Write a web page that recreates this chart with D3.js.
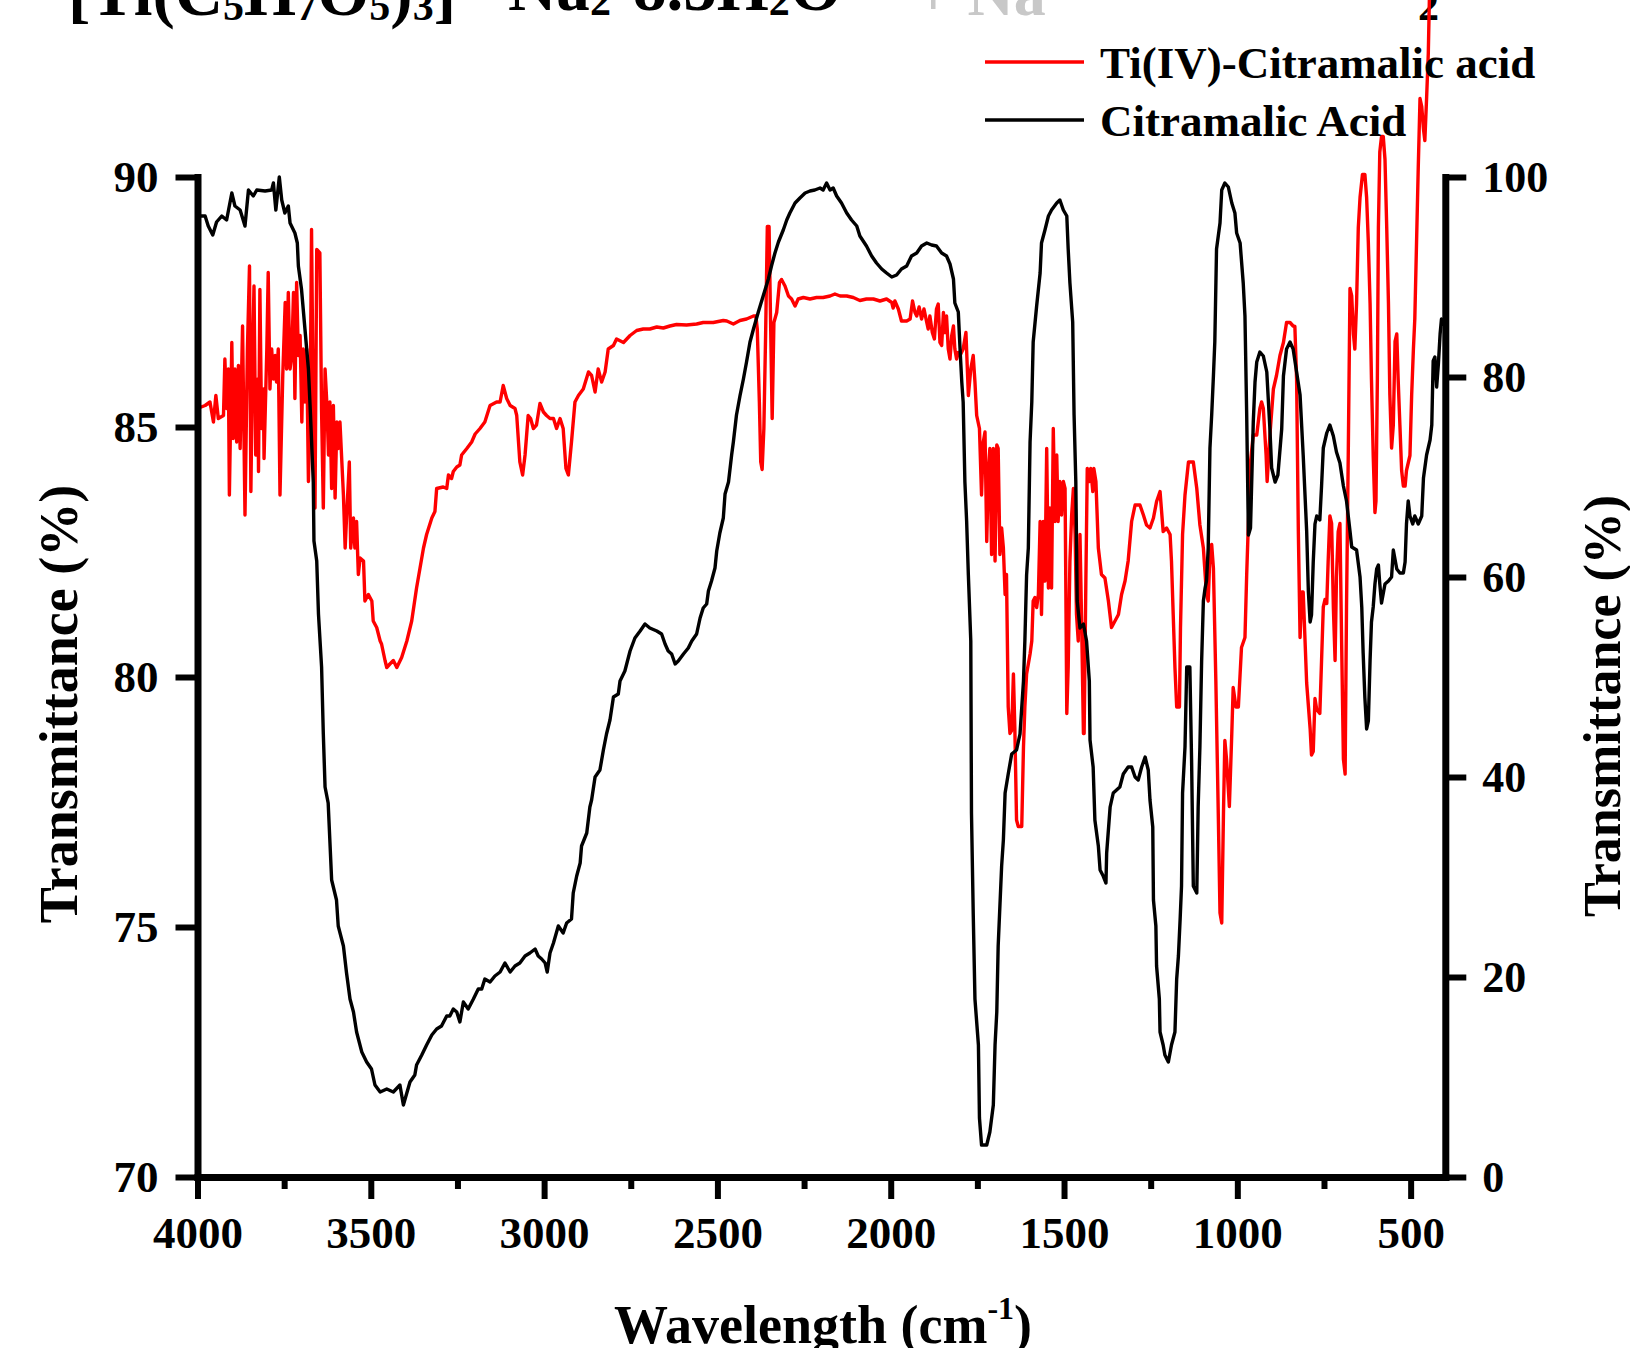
<!DOCTYPE html>
<html>
<head>
<meta charset="utf-8">
<script src="https://cdn.jsdelivr.net/npm/d3@7"></script>
<style>
html, body { margin: 0; padding: 0; background: #fff; overflow: hidden; }
svg text { font-family: "Liberation Serif", "Times New Roman", serif; font-weight: bold; fill: #000; }
</style>
</head>
<body>
<svg id="chart" width="1630" height="1348"></svg>
<script>
// Ti(IV)-citramalic acid spectrum (left axis, %T 70-90)
const tiWave = [4000,3993,3978,3964,3954,3947,3940,3925,3921,3916,3911,3908,3901,3897,3892,3887,3882,3877,3870,3863,
  3856,3850,3846,3841,3837,3832,3826,3824,3820,3815,3810,3808,3800,3796,3791,3786,3781,3776,3772,3767,
  3762,3754,3747,3743,3738,3733,3728,3723,3719,3714,3709,3704,3699,3695,3690,3685,3680,3675,3671,3666,
  3661,3656,3647,3642,3637,3632,3627,3622,3618,3613,3608,3603,3598,3594,3589,3579,3574,3570,3562,3558,
  3550,3546,3541,3536,3531,3521,3517,3507,3497,3493,3483,3473,3469,3459,3454,3445,3435,3425,3411,3396,
  3382,3368,3358,3348,3339,3324,3315,3310,3291,3281,3276,3267,3262,3252,3243,3238,3223,3209,3199,3185,
  3171,3156,3137,3127,3118,3108,3098,3084,3079,3070,3062,3055,3046,3039,3031,3022,3012,3002,2993,2983,
  2973,2964,2954,2945,2937,2930,2921,2911,2901,2887,2872,2863,2853,2844,2834,2824,2815,2800,2791,2771,
  2752,2733,2714,2695,2675,2656,2637,2618,2589,2560,2541,2512,2483,2473,2454,2435,2416,2396,2389,2385,
  2379,2375,2371,2366,2361,2356,2351,2346,2342,2337,2329,2321,2315,2305,2295,2286,2276,2267,2252,2233,
  2214,2195,2175,2161,2146,2127,2108,2089,2070,2050,2031,2012,1997,1993,1988,1978,1969,1954,1944,1937,
  1930,1925,1918,1911,1904,1896,1892,1887,1880,1874,1868,1863,1858,1853,1848,1843,1839,1834,1829,1824,
  1819,1815,1810,1805,1800,1791,1783,1776,1769,1762,1757,1752,1744,1738,1733,1728,1723,1718,1714,1709,
  1704,1699,1694,1690,1685,1680,1675,1670,1666,1661,1656,1651,1646,1642,1637,1632,1622,1617,1613,1608,
  1598,1593,1589,1584,1579,1574,1569,1565,1560,1555,1550,1545,1541,1536,1531,1526,1521,1517,1512,1507,
  1502,1497,1492,1488,1483,1478,1473,1468,1464,1459,1454,1449,1444,1442,1437,1433,1427,1423,1417,1414,
  1408,1401,1392,1382,1372,1363,1353,1343,1334,1324,1315,1305,1295,1286,1281,1271,1262,1252,1242,1233,
  1223,1214,1204,1194,1190,1185,1180,1175,1167,1164,1158,1151,1141,1127,1117,1108,1098,1089,1084,1079,
  1074,1069,1062,1055,1050,1045,1040,1036,1031,1023,1016,1012,1004,997,988,978,973,968,962,954,
  944,935,930,925,917,914,906,896,887,877,867,858,848,839,834,829,824,819,814,810,
  800,790,786,781,776,771,762,757,752,747,742,738,733,728,723,718,714,709,704,699,
  694,689,685,680,675,670,665,661,656,651,646,639,632,627,622,617,613,608,603,600,
  596,593,589,584,579,574,569,564,560,555,550,545,540,536,531,526,521,516,512,507,
  502,497,492,488,483,478,473,468,463,459,454,449,446,440];
const tiT = [85.37,85.39,85.43,85.50,85.10,85.63,85.17,85.23,86.36,85.37,86.16,83.64,86.69,84.77,86.16,84.70,86.23,84.57,87.02,83.24,
  86.56,88.22,83.71,86.43,87.82,84.44,85.96,84.11,87.75,84.97,85.76,84.37,86.56,88.09,85.76,86.56,85.96,86.43,85.90,86.56,
  83.64,86.03,87.49,86.16,87.69,86.16,86.43,87.69,85.57,87.89,86.43,86.83,85.10,86.56,85.50,86.56,83.91,85.37,88.95,85.23,
  83.38,88.55,88.48,85.30,83.38,86.16,85.50,84.44,85.50,83.77,85.43,83.58,85.10,84.57,85.10,83.64,82.58,83.18,84.30,82.58,
  83.18,82.58,83.11,82.05,82.38,82.32,81.52,81.65,81.52,81.12,80.99,80.72,80.66,80.33,80.19,80.26,80.33,80.19,80.39,80.72,
  81.12,81.78,82.18,82.58,82.85,83.18,83.31,83.77,83.80,83.77,84.04,83.97,84.11,84.20,84.24,84.44,84.57,84.70,84.86,84.97,
  85.10,85.43,85.50,85.50,85.83,85.57,85.43,85.37,85.23,84.30,84.04,84.44,85.23,85.17,84.97,85.04,85.47,85.30,85.23,85.17,
  85.17,84.97,85.17,84.97,84.17,84.04,84.70,85.50,85.63,85.76,86.10,86.03,85.70,86.16,85.90,86.10,86.56,86.63,86.76,86.69,
  86.83,86.93,86.96,86.96,87.00,86.98,87.02,87.05,87.04,87.06,87.09,87.09,87.13,87.12,87.06,87.13,87.16,87.22,87.22,86.96,
  85.50,84.30,84.15,84.97,86.83,89.01,89.01,86.83,85.17,87.09,87.29,87.89,87.95,87.82,87.62,87.56,87.42,87.56,87.59,87.56,
  87.59,87.59,87.62,87.66,87.62,87.62,87.59,87.53,87.56,87.56,87.52,87.56,87.49,87.38,87.52,87.36,87.12,87.12,87.16,87.52,
  87.29,87.22,87.40,87.16,87.36,87.09,86.96,87.22,86.89,86.76,87.36,87.46,86.69,86.63,87.29,86.89,87.22,86.56,86.36,86.83,
  87.02,86.56,86.36,86.49,86.43,86.56,86.89,85.63,86.16,86.43,85.90,85.23,84.97,83.64,84.70,84.90,82.71,84.17,84.57,82.45,
  84.57,82.32,84.64,84.57,82.45,82.98,82.58,81.65,82.05,79.40,78.87,78.93,80.06,79.00,77.14,77.01,77.01,78.60,79.40,80.06,
  80.46,80.72,81.52,81.59,81.39,81.65,83.11,81.25,83.11,81.92,84.57,81.78,83.38,81.78,84.97,83.11,84.44,83.11,83.91,83.24,
  83.91,83.77,79.27,80.19,82.32,83.24,83.77,82.85,81.25,80.72,82.85,80.99,78.87,78.87,81.92,84.17,83.91,84.17,83.71,84.17,
  83.91,82.58,82.05,81.98,81.52,80.99,81.12,81.25,81.65,81.92,82.32,83.11,83.44,83.44,83.44,83.24,83.04,82.98,83.18,83.51,
  83.71,82.91,82.98,82.85,82.32,81.25,80.19,79.40,79.40,80.99,82.85,83.64,84.30,84.30,83.77,83.04,82.58,81.65,81.52,82.45,
  82.65,82.18,79.93,77.27,75.28,75.08,77.27,78.73,78.34,77.41,78.87,79.79,79.40,79.40,80.59,80.79,82.05,83.11,84.30,84.84,
  84.84,85.37,85.50,85.37,84.44,83.91,84.84,85.76,86.03,86.43,86.69,87.09,87.09,87.02,87.01,85.95,82.91,80.79,81.70,81.70,
  79.88,78.97,78.44,78.51,79.57,79.35,79.27,80.33,81.40,81.55,81.47,82.31,83.22,83.07,81.40,80.33,82.00,82.91,83.07,80.64,
  78.36,78.06,81.40,84.43,87.77,87.62,86.86,86.56,87.47,88.99,89.59,90.05,90.05,89.59,88.68,87.47,85.95,84.43,83.29,83.52,
  85.95,88.99,90.50,90.81,90.81,90.35,88.99,87.47,85.65,84.58,85.04,86.71,86.86,85.95,85.04,84.13,83.82,83.82,84.13,84.28,
  84.43,85.65,86.56,87.16,88.68,90.20,91.57,91.41,90.96,90.73,91.57,92.48,93.54,94.80];

// Citramalic acid spectrum (right axis, %T 0-100)
const citWave = [4000,3993,3978,3969,3956,3945,3930,3916,3901,3892,3877,3863,3853,3839,3829,3805,3786,3781,3774,3764,
  3757,3748,3738,3733,3719,3712,3709,3700,3690,3680,3674,3666,3664,3656,3651,3642,3637,3632,3623,3613,
  3599,3594,3579,3570,3560,3550,3541,3526,3512,3498,3488,3473,3454,3435,3416,3406,3387,3373,3368,3353,
  3339,3324,3310,3296,3281,3272,3262,3252,3243,3233,3219,3204,3190,3180,3171,3156,3142,3127,3113,3098,
  3084,3070,3055,3041,3026,3017,3007,2997,2991,2983,2973,2959,2945,2935,2921,2916,2906,2896,2892,2877,
  2868,2863,2853,2839,2829,2820,2810,2800,2786,2781,2767,2752,2738,2723,2709,2695,2675,2661,2651,2642,
  2632,2622,2613,2598,2584,2574,2560,2550,2541,2531,2526,2517,2507,2502,2493,2483,2478,2468,2459,2454,
  2445,2435,2425,2416,2406,2396,2382,2368,2353,2344,2334,2324,2310,2300,2291,2276,2262,2247,2233,2219,
  2204,2195,2185,2175,2166,2156,2142,2127,2113,2098,2089,2070,2055,2041,2026,2012,1997,1983,1969,1954,
  1940,1925,1911,1896,1882,1868,1853,1839,1829,1819,1815,1805,1800,1795,1791,1786,1781,1776,1769,1767,
  1762,1757,1747,1744,1738,1723,1714,1704,1699,1694,1690,1685,1680,1675,1670,1661,1651,1637,1627,1617,
  1613,1608,1603,1598,1593,1589,1579,1569,1565,1555,1545,1536,1521,1512,1502,1492,1488,1483,1475,1471,
  1466,1462,1454,1444,1435,1427,1425,1416,1411,1401,1396,1387,1379,1377,1367,1358,1339,1329,1315,1305,
  1295,1286,1276,1266,1257,1252,1244,1242,1235,1233,1225,1223,1214,1209,1199,1190,1180,1175,1170,1165,
  1161,1158,1151,1146,1137,1132,1127,1117,1113,1108,1103,1098,1093,1089,1084,1079,1074,1069,1065,1060,
  1050,1045,1036,1026,1016,1007,1002,992,983,978,973,968,962,954,949,944,935,925,915,906,
  901,891,883,872,867,858,848,839,829,819,810,800,795,790,786,781,776,771,762,757,
  752,742,733,723,714,704,694,685,675,670,656,646,641,637,632,627,622,617,613,608,
  603,598,593,589,584,574,564,555,550,540,531,521,516,512,507,502,494,488,478,468,
  463,454,444,439,435,430,425,420,415,411,408];
const citT = [96.4,96.1,96.1,95.1,94.2,95.5,96.1,95.7,98.4,97.1,96.7,95.1,98.7,98.1,98.7,98.6,98.7,99.4,96.7,100.0,
  97.7,96.4,97.1,95.4,94.4,93.4,91.1,88.8,84.8,80.8,76.2,69.5,63.6,61.6,56.3,51.0,44.3,39.0,37.4,29.7,
  27.7,25.1,23.1,20.4,17.8,16.5,14.5,12.5,11.5,10.8,9.2,8.5,8.8,8.5,9.2,7.2,9.5,10.2,11.2,12.2,
  13.2,14.2,14.8,15.1,16.1,16.1,16.8,16.5,15.5,17.5,16.8,17.8,18.8,18.8,19.8,19.5,20.1,20.5,21.4,20.5,
  21.1,21.4,22.1,22.4,22.8,22.1,21.8,21.4,20.5,22.4,23.4,25.1,24.4,25.4,25.8,28.4,30.1,31.4,33.1,34.4,
  37.0,37.7,40.0,40.7,42.7,44.3,45.7,48.0,48.3,49.6,50.6,52.6,53.9,54.6,55.3,54.9,54.6,54.3,53.3,52.6,
  52.3,51.3,51.6,52.3,52.9,53.6,54.3,55.9,56.9,57.3,58.6,59.6,60.9,62.6,64.4,65.9,68.3,69.5,72.2,73.5,
  76.2,78.1,79.8,81.5,83.5,84.8,86.5,88.1,89.8,91.1,92.4,93.5,94.7,95.7,96.4,97.4,97.9,98.4,98.6,98.7,
  98.9,98.7,99.4,98.7,98.9,98.1,97.4,96.4,95.7,95.1,94.1,93.1,92.1,91.4,90.8,90.4,90.0,90.2,90.8,91.1,
  92.1,92.4,93.1,93.4,93.2,93.1,92.4,92.1,91.3,89.8,87.4,86.5,82.8,79.5,77.5,69.5,65.6,60.2,53.6,36.4,
  26.4,17.8,13.2,5.9,3.2,3.2,4.5,7.2,13.2,16.5,23.1,27.1,31.1,33.7,38.4,40.3,42.3,42.7,44.3,49.6,
  53.6,60.2,62.9,73.5,77.5,83.5,87.1,90.4,93.4,94.7,96.1,96.7,97.4,97.7,96.7,96.1,92.8,89.4,85.5,76.2,
  69.5,57.6,54.9,55.3,53.6,49.6,43.7,41.0,35.7,33.1,30.7,30.1,29.4,32.4,37.0,38.4,39.0,40.3,41.0,41.0,
  40.0,39.7,41.0,42.0,40.7,37.7,35.0,27.7,25.1,21.1,17.8,14.5,13.2,12.2,11.5,13.2,14.5,19.8,22.1,25.8,
  29.1,38.4,43.0,51.0,51.0,41.7,29.1,28.4,37.0,43.0,51.6,57.6,58.9,59.6,62.9,72.9,76.2,80.1,83.5,92.8,
  95.4,98.7,99.4,99.0,97.4,96.4,94.4,93.4,89.4,86.1,76.2,64.2,64.9,75.5,79.5,81.5,82.5,82.1,80.5,74.8,
  70.9,69.5,70.2,74.8,80.1,82.8,83.5,82.8,80.5,78.2,72.2,64.6,58.5,55.5,56.2,61.5,65.3,66.1,65.7,69.1,
  72.9,74.4,75.2,74.1,72.5,71.4,69.1,67.6,64.6,63.0,62.7,60.0,57.0,52.4,47.9,44.8,45.6,51.7,55.5,57.0,
  59.3,60.8,61.2,59.3,57.4,59.3,59.6,60.0,62.7,60.8,60.4,60.4,61.5,65.3,67.6,66.1,65.3,66.1,65.3,66.1,
  69.9,72.2,73.7,75.2,81.6,82.0,79.0,81.3,84.3,85.8,85.1];

// ticks and labels
const xTicks = [4000, 3500, 3000, 2500, 2000, 1500, 1000, 500];
const xMinor = [3750, 3250, 2750, 2250, 1750, 1250, 750];
const leftTicks = [70, 75, 80, 85, 90];
const rightTicks = [0, 20, 40, 60, 80, 100];
const seriesNames = ["Ti(IV)-Citramalic acid", "Citramalic Acid"];
const seriesColors = ["#ff0000", "#000000"];

const svg = d3.select("#chart");

const x = d3.scaleLinear().domain([4000, 400]).range([197.5, 1445.3]);
const yL = d3.scaleLinear().domain([70, 90]).range([1177, 177]);
const yR = d3.scaleLinear().domain([0, 100]).range([1177, 177]);

// cut-off formula line at the very top
const title = svg.append("text").attr("x", 68).attr("y", 15).style("font-size", "67px");
const sub = (t) => title.append("tspan").attr("dy", 5).style("font-size", "42px").text(t);
const main = (t) => title.append("tspan").attr("dy", -5).text(t);
title.append("tspan").text("[Ti(C");
sub("5"); main("H"); sub("7"); main("O"); sub("5"); main(")"); sub("3"); main("]");
title.append("tspan").attr("dy", -5).attr("dx", 52).text("Na");
sub("2"); title.append("tspan").attr("dy", -5).attr("dx", 22).text("8.5H"); sub("2"); main("O");
svg.append("text").attr("x", 915).attr("y", 15).style("font-size", "64px").style("fill", "#c8c8c8").text("+ Na");
svg.append("text").attr("x", 1418).attr("y", 20).style("font-size", "42px").text("2");

// spectra
const lineL = d3.line().x(d => x(d[0])).y(d => yL(d[1]));
const lineR = d3.line().x(d => x(d[0])).y(d => yR(d[1]));

svg.append("path")
  .datum(d3.zip(tiWave, tiT))
  .attr("d", lineL)
  .attr("fill", "none")
  .attr("stroke", seriesColors[0])
  .attr("stroke-width", 3.4)
  .attr("stroke-linejoin", "round");

svg.append("path")
  .datum(d3.zip(citWave, citT))
  .attr("d", lineR)
  .attr("fill", "none")
  .attr("stroke", seriesColors[1])
  .attr("stroke-width", 3.4)
  .attr("stroke-linejoin", "round");

// axes
function styleAxis(g, size) {
  g.select(".domain").attr("stroke-width", 7).attr("stroke-linecap", "square");
  g.selectAll(".tick line").attr("stroke-width", 6);
  g.selectAll(".tick text").style("font-size", size + "px").attr("fill", "#000");
}

svg.append("g")
  .attr("transform", "translate(0,1177)")
  .call(d3.axisBottom(x).tickValues(xMinor).tickSize(12).tickFormat(""))
  .call(g => g.select(".domain").remove())
  .call(g => g.selectAll(".tick line").attr("stroke-width", 6));

svg.append("g")
  .attr("transform", "translate(0,1177)")
  .call(d3.axisBottom(x).tickValues(xTicks).tickSize(22).tickSizeOuter(0).tickPadding(17).tickFormat(d3.format("d")))
  .call(g => styleAxis(g, 45));

svg.append("g")
  .attr("transform", "translate(197.5,0)")
  .call(d3.axisLeft(yL).tickValues(leftTicks).tickSize(22).tickSizeOuter(0).tickPadding(17))
  .call(g => styleAxis(g, 45));

svg.append("g")
  .attr("transform", "translate(1445.3,0)")
  .call(d3.axisRight(yR).tickValues(rightTicks).tickSize(21).tickSizeOuter(0).tickPadding(16))
  .call(g => styleAxis(g, 44));

// axis titles
svg.append("text")
  .attr("transform", "translate(77,704) rotate(-90)")
  .attr("text-anchor", "middle")
  .style("font-size", "54px")
  .text("Transmittance (%)");

svg.append("text")
  .attr("transform", "translate(1620,706) rotate(-90)")
  .attr("text-anchor", "middle")
  .style("font-size", "52px")
  .text("Transmittance (%)");

const xt = svg.append("text")
  .attr("x", 823).attr("y", 1343)
  .attr("text-anchor", "middle")
  .style("font-size", "54px");
xt.append("tspan").text("Wavelength (cm");
xt.append("tspan").attr("dy", -24).style("font-size", "32px").text("-1");
xt.append("tspan").attr("dy", 24).text(")");

// legend
const legend = svg.append("g");
seriesNames.forEach((name, i) => {
  const yy = 62 + i * 58;
  legend.append("line")
    .attr("x1", 985).attr("x2", 1084)
    .attr("y1", yy).attr("y2", yy)
    .attr("stroke", seriesColors[i])
    .attr("stroke-width", 3.5);
  legend.append("text")
    .attr("x", 1100).attr("y", yy + 16)
    .style("font-size", "45px")
    .text(name);
});
</script>
</body>
</html>
